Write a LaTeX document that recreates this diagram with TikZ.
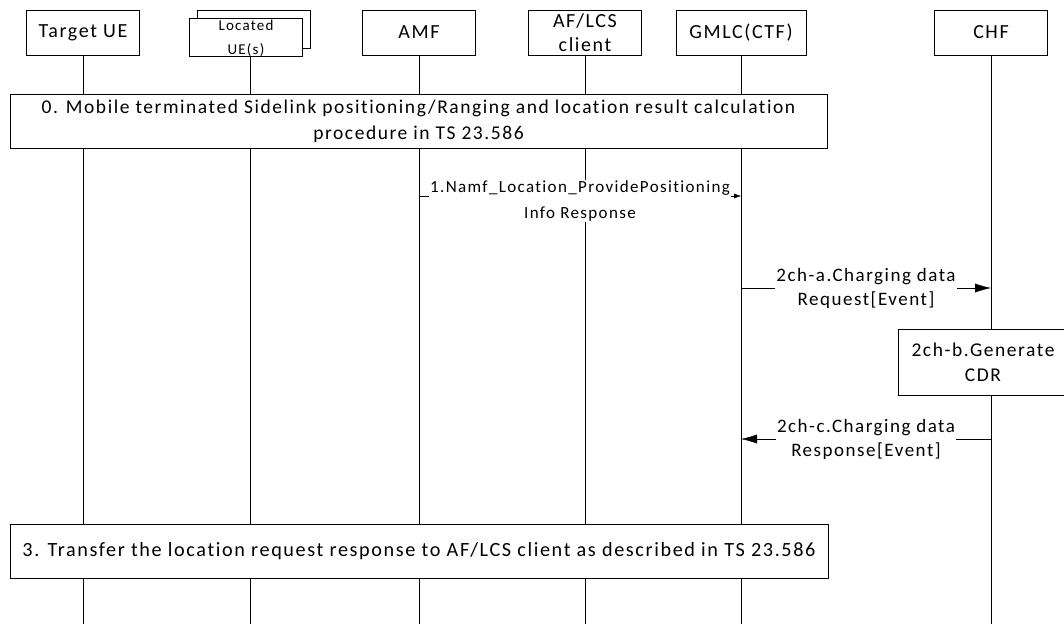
\documentclass[tikz,border=0pt]{standalone}
\usepackage{fontspec}
\setmainfont{Carlito}[LetterSpace=8,Ligatures=NoCommon]
\usetikzlibrary{arrows.meta}

\begin{document}
\begin{tikzpicture}[x=1pt,y=-1pt,
    entity/.style={draw,fill=white,minimum width=113pt,minimum height=45pt,inner sep=0pt,font=\fontsize{20}{22}\selectfont},
    stepbox/.style={draw,fill=white,inner sep=0pt,align=center,font=\fontsize{19.5}{26}\selectfont},
    msg/.style={fill=white,inner sep=1pt,align=center,font=\fontsize{19}{24}\selectfont},
    life/.style={line width=1pt}]
    \clip (0,0) rectangle (1064,624);
    \coordinate (bottom) at (0,624);
    % participants
    \node (ue) [entity] at (83,32.5) {Target UE};
    \node (located_back) [entity,minimum height=38pt] at (254,29) {};
    \node (located) [entity,minimum height=38pt] at (246,37) {};
    \node (located_txt) [align=center,inner sep=0pt,font=\fontsize{15}{24}\selectfont] at (246,38) {Located\\UE(s)};
    \node (amf) [entity] at (419,32.5) {AMF};
    \node (af) [entity,align=center,font=\fontsize{20}{24}\selectfont] at (585,32.5) {AF/LCS\\client};
    \node (gmlc) [entity,minimum width=130pt] at (741,32.5) {GMLC(CTF)};
    \node (chf) [entity] at (991,32.5) {CHF};
    % lifelines
    \draw [life] (ue.south) -- (ue.south |- bottom);
    \draw [life] ([xshift=4pt]located.south) -- ([xshift=4pt]located.south |- bottom);
    \draw [life] (amf.south) -- (amf.south |- bottom);
    \draw [life] (af.south) -- (af.south |- bottom);
    \draw [life] (gmlc.south) -- (gmlc.south |- bottom);
    \draw [life] (chf.south) -- (chf.south |- bottom);
    % steps
    \node (step0) [stepbox,minimum width=817pt,minimum height=54pt] at (418.5,121) {0. Mobile terminated Sidelink positioning/Ranging and location result calculation\\procedure in TS 23.586};
    \coordinate (m1) at (0,196);
    \draw [-{Latex[length=7pt,width=5pt]}] (amf |- m1) -- node [msg,yshift=-5pt,font=\fontsize{17}{26}\selectfont] {1.Namf\_Location\_ProvidePositioning\\Info Response} (gmlc |- m1);
    \coordinate (m2a) at (0,288);
    \draw [-{Latex[length=16pt,width=9pt]}] (gmlc |- m2a) -- node [msg] {2ch-a.Charging data\\Request[Event]} (chf |- m2a);
    \node (cdr) [stepbox,minimum width=170pt,minimum height=66pt,font=\fontsize{19.5}{25}\selectfont] at (983,362) {2ch-b.Generate\\CDR};
    \coordinate (m2c) at (0,439);
    \draw [-{Latex[length=16pt,width=9pt]}] (chf |- m2c) -- node [msg] {2ch-c.Charging data\\Response[Event]} (gmlc |- m2c);
    \node (step3) [stepbox,minimum width=818pt,minimum height=54pt,font=\fontsize{20.2}{26}\selectfont] at (419,551) {3. Transfer the location request response to AF/LCS client as described in TS 23.586};
\end{tikzpicture}
\end{document}
